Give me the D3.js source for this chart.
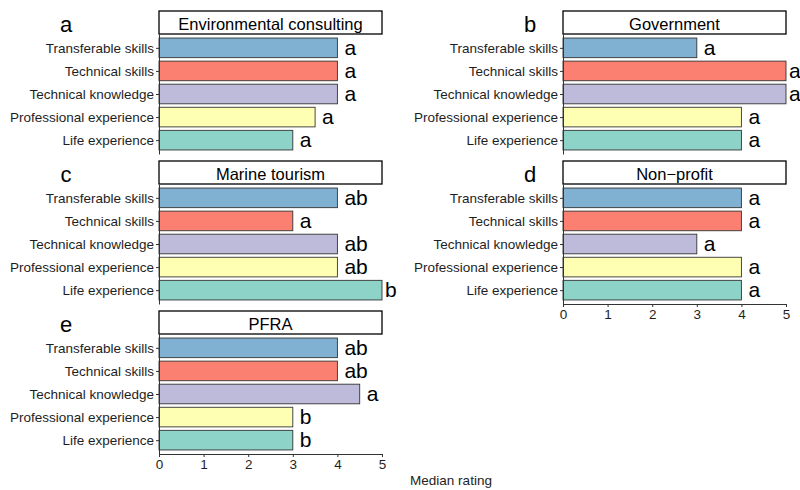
<!DOCTYPE html>
<html>
<head>
<meta charset="utf-8">
<script src="https://cdn.jsdelivr.net/npm/d3@7/dist/d3.min.js"></script>
<style>
  html, body { margin: 0; padding: 0; background: #fff; }
  svg { display: block; font-family: "Liberation Sans", Arial, Helvetica, sans-serif; }
</style>
</head>
<body>
<script>
// Skill categories, listed top to bottom in every panel
const categories = ["Transferable skills", "Technical skills", "Technical knowledge", "Professional experience", "Life experience"];
const categoryColors = ["#80b1d3", "#fb8072", "#bebada", "#ffffb3", "#8dd3c7"];

// Sectors (one panel each) and their panel letters
const sectors = ["Environmental consulting", "Government", "Marine tourism", "Non\u2212profit", "PFRA"];
const panelLetters = ["a", "b", "c", "d", "e"];

// Median ratings per sector, in category order
const consultingRatings = [4, 4, 4, 3.5, 3];
const governmentRatings = [3, 5, 5, 4, 4];
const tourismRatings    = [4, 3, 4, 4, 5];
const nonprofitRatings  = [4, 4, 3, 4, 4];
const pfraRatings       = [4, 4, 4.5, 3, 3];

// Significance groupings per sector, in category order
const consultingGroups = ["a", "a", "a", "a", "a"];
const governmentGroups = ["a", "a", "a", "a", "a"];
const tourismGroups    = ["ab", "a", "ab", "ab", "b"];
const nonprofitGroups  = ["a", "a", "a", "a", "a"];
const pfraGroups       = ["ab", "ab", "a", "b", "b"];

const xTicks = [0, 1, 2, 3, 4, 5];
const xTitle = "Median rating";

const ratings = [consultingRatings, governmentRatings, tourismRatings, nonprofitRatings, pfraRatings];
const groups = [consultingGroups, governmentGroups, tourismGroups, nonprofitGroups, pfraGroups];

// Layout
const W = 800, H = 490;
const colLeft = [159, 563];
const panelW = 223;
const rowTop = [11, 161, 311];
const stripH = 23;
const plotH = 120;
const letterX = [66, 530];
const axisColor = "#333";
const textColor = "#1e1e1e";

const svg = d3.select("body").append("svg").attr("width", W).attr("height", H);

sectors.forEach((sector, i) => {
  const col = i % 2, row = Math.floor(i / 2);
  const x0 = colLeft[col];
  const top = rowTop[row];
  const plotTop = top + stripH;
  const plotBottom = plotTop + plotH;

  const x = d3.scaleLinear().domain([0, 5]).range([x0, x0 + panelW]);
  const y = d3.scalePoint().domain(categories).range([plotTop, plotBottom]).padding(0.6);
  const barH = y.step() * 0.85;

  const g = svg.append("g");

  // panel letter
  g.append("text")
    .attr("x", letterX[col]).attr("y", top + 21)
    .attr("text-anchor", "middle")
    .attr("font-size", 22).attr("fill", "#000")
    .text(panelLetters[i]);

  // strip with sector name
  g.append("rect")
    .attr("x", x0).attr("y", top).attr("width", panelW).attr("height", stripH)
    .attr("fill", "#fff").attr("stroke", "#000").attr("stroke-width", 1.3);
  g.append("text")
    .attr("x", x0 + panelW / 2).attr("y", top + 19)
    .attr("text-anchor", "middle")
    .attr("font-size", 16.5).attr("fill", "#000")
    .text(sector);

  // bars
  const rows = categories.map((c, k) => ({ cat: c, value: ratings[i][k], group: groups[i][k], color: categoryColors[k] }));
  g.selectAll("rect.bar").data(rows).enter().append("rect")
    .attr("class", "bar")
    .attr("x", x(0))
    .attr("y", d => y(d.cat) - barH / 2)
    .attr("width", d => x(d.value) - x(0))
    .attr("height", barH)
    .attr("fill", d => d.color)
    .attr("stroke", "#333").attr("stroke-width", 0.9);

  // group letters
  g.selectAll("text.grp").data(rows).enter().append("text")
    .attr("class", "grp")
    .attr("x", d => x(d.value) + (d.value >= 5 ? 3 : 7))
    .attr("y", d => y(d.cat) + 7)
    .attr("font-size", 21).attr("fill", "#000")
    .text(d => d.group);

  // y axis
  const yAxis = g.append("g")
    .attr("transform", `translate(${x0},0)`)
    .call(d3.axisLeft(y).tickSize(3).tickSizeOuter(0).tickPadding(2));
  yAxis.select(".domain").attr("stroke", axisColor).attr("stroke-width", 1);
  yAxis.selectAll(".tick line").attr("stroke", axisColor);
  yAxis.selectAll(".tick text").attr("font-size", 13.5).attr("fill", textColor)
    .attr("font-family", "Liberation Sans, Arial, sans-serif");

  // x axis on the bottom panel of each column
  const hasXAxis = (col === 0 && row === 2) || (col === 1 && row === 1);
  if (hasXAxis) {
    const xAxis = g.append("g")
      .attr("transform", `translate(0,${plotBottom})`)
      .call(d3.axisBottom(x).tickValues(xTicks).tickFormat(d3.format("d")).tickSize(3).tickSizeOuter(0).tickPadding(2));
    xAxis.select(".domain").attr("stroke", axisColor).attr("stroke-width", 1);
    xAxis.selectAll(".tick line").attr("stroke", axisColor);
    xAxis.selectAll(".tick text").attr("font-size", 13.5).attr("fill", textColor)
      .attr("font-family", "Liberation Sans, Arial, sans-serif");
  }
});

// shared x title
svg.append("text")
  .attr("x", 451).attr("y", 485)
  .attr("text-anchor", "middle")
  .attr("font-size", 13.5).attr("fill", textColor)
  .text(xTitle);
</script>
</body>
</html>
